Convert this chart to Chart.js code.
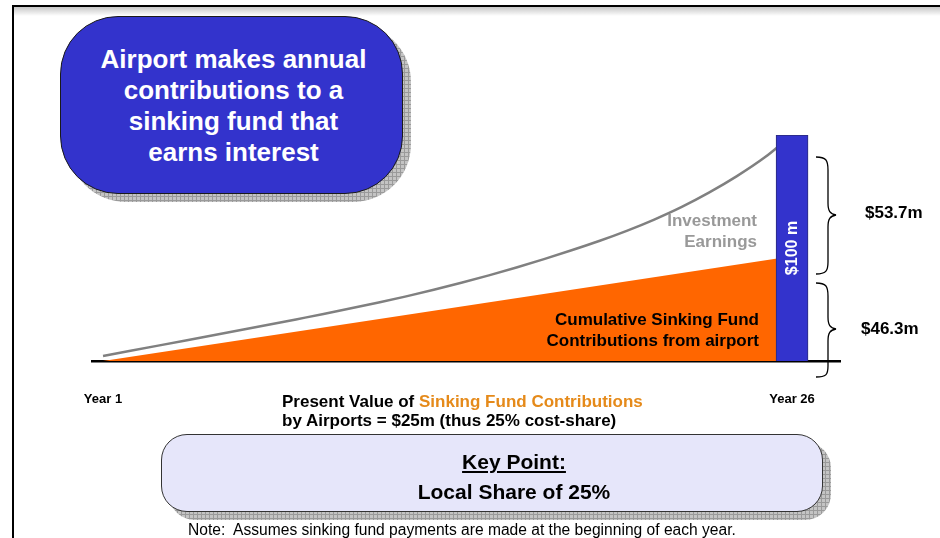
<!DOCTYPE html>
<html>
<head>
<meta charset="utf-8">
<script src="https://cdn.jsdelivr.net/npm/chart.js@4"></script>
<style>
  body { margin: 0; background: #fff; font-family: 'Liberation Sans', Arial, sans-serif; }
  #page { position: relative; width: 940px; height: 538px; overflow: hidden; background: #fff; }
  #chart { position: absolute; left: 0; top: 0; }
  .abs { position: absolute; white-space: nowrap; }
  .hatch {
    background-color: #c4c4c4;
    background-image: linear-gradient(#9a9a9a 1px, transparent 1px), linear-gradient(90deg, #9a9a9a 1px, transparent 1px);
    background-size: 4px 4px;
  }
</style>
</head>
<body>
<div id="page">
  <!-- slide frame -->
  <div class="abs" style="left:12px;top:5px;width:928px;height:2px;background:#000"></div>
  <div class="abs" style="left:14px;top:7px;width:926px;height:9px;background:linear-gradient(rgba(0,0,0,0.22),rgba(0,0,0,0))"></div>
  <div class="abs" style="left:12px;top:5px;width:2px;height:533px;background:#000"></div>

  <canvas id="chart" width="940" height="538"></canvas>

  <!-- callout box -->
  <div class="abs hatch" style="left:68px;top:24px;width:343px;height:178px;border-radius:58px"></div>
  <div class="abs" style="left:60px;top:16px;width:341px;height:176px;border:1px solid #1a1a1a;border-radius:58px;background:#3333CC"></div>
  <div class="abs" style="left:62px;top:44px;width:343px;text-align:center;color:#fff;font-weight:bold;font-size:26px;line-height:31px">Airport makes annual<br>contributions to a<br>sinking fund that<br>earns interest</div>

  <!-- in-chart labels -->
  <div class="abs" style="right:183px;top:210px;text-align:right;color:#999;font-weight:bold;font-size:17px;line-height:21px">Investment<br>Earnings</div>
  <div class="abs" style="right:181px;top:309px;text-align:right;color:#000;font-weight:bold;font-size:17px;line-height:21px">Cumulative Sinking Fund<br>Contributions from airport</div>
  <div class="abs" style="left:752px;top:238px;width:80px;height:20px;line-height:20px;text-align:center;color:#fff;font-weight:bold;font-size:16px;transform:rotate(-90deg)">$100 m</div>

  <!-- braces -->
  <svg class="abs" style="left:0;top:0" width="940" height="538">
    <path d="M816,157 C826,157 828,160 828,170 L828,203 C828,211 830,214 836,215 C830,216 828,219 828,227 L828,262 C828,271 826,274 816,274" fill="none" stroke="#000" stroke-width="1.3"/>
    <path d="M816,283 C826,283 828,286 828,296 L828,317 C828,325 830,328 836,329 C830,330 828,333 828,341 L828,366 C828,375 826,377 816,377" fill="none" stroke="#000" stroke-width="1.3"/>
  </svg>
  <div class="abs" style="left:865px;top:203px;font-weight:bold;font-size:17px;line-height:20px">$53.7m</div>
  <div class="abs" style="left:861px;top:319px;font-weight:bold;font-size:17px;line-height:20px">$46.3m</div>

  <!-- present value text -->
  <div class="abs" style="left:282px;top:392px;font-weight:bold;font-size:17px;line-height:19px">Present Value of <span style="color:#E58A1A">Sinking Fund Contributions</span><br>by Airports = $25m (thus 25% cost-share)</div>

  <!-- key point box -->
  <div class="abs hatch" style="left:169px;top:442px;width:662px;height:78px;border-radius:26px"></div>
  <div class="abs" style="left:161px;top:434px;width:660px;height:76px;border:1px solid #333;border-radius:26px;background:#E6E6FA"></div>
  <div class="abs" style="left:414px;top:449px;width:200px;text-align:center;font-weight:bold;font-size:21px;line-height:26px;text-decoration:underline">Key Point:</div>
  <div class="abs" style="left:364px;top:479px;width:300px;text-align:center;font-weight:bold;font-size:21px;line-height:26px">Local Share of 25%</div>

  <div class="abs" style="left:188px;top:520px;font-size:15.6px;line-height:20px">Note:&nbsp; Assumes sinking fund payments are made at the beginning of each year.</div>
</div>

<script>
// years along the horizontal axis
const tickYears = [1, 26];
const tickLabels = ['Year 1', 'Year 26'];

// total fund value (contributions + interest), $m
const fundYears = [1, 2, 3, 4, 5, 6, 7, 8, 9, 10, 11, 12, 13, 14, 15, 16, 17, 18, 19, 20, 21, 22, 23, 24, 25, 26];
const fundValues = [2.2, 4.5, 6.8, 9.1, 11.4, 13.7, 16.0, 18.4, 20.8, 23.3, 25.9, 28.6, 31.5, 34.6, 37.9, 41.4, 45.1, 49.0, 53.1, 57.6, 62.6, 68.2, 74.6, 81.8, 90.0, 100];

// cumulative contributions from airport, $m (orange wedge)
const contributionYears = [1, 26];
const contributionValues = [0, 46.3];

// final fund balance bar
const barYears = [26];
const barValues = [100];

const fontFamily = "'Liberation Sans', Arial, sans-serif";

function toPoints(xs, ys) {
  return xs.map((x, i) => ({ x: x, y: ys[i] }));
}

const ctx = document.getElementById('chart').getContext('2d');
new Chart(ctx, {
  type: 'line',
  data: {
    datasets: [
      {
        type: 'bar',
        label: 'Fund balance',
        data: toPoints(barYears, barValues),
        backgroundColor: '#3333CC',
        borderColor: '#2b2b7a',
        borderWidth: 1,
        barThickness: 32,
        order: 0
      },
      {
        label: 'Fund value',
        data: toPoints(fundYears, fundValues),
        borderColor: '#808080',
        borderWidth: 2.5,
        pointRadius: 0,
        fill: false,
        cubicInterpolationMode: 'monotone',
        order: 1
      },
      {
        label: 'Cumulative contributions',
        data: toPoints(contributionYears, contributionValues),
        borderWidth: 0,
        borderColor: '#FF6600',
        backgroundColor: '#FF6600',
        pointRadius: 0,
        fill: 'origin',
        order: 2
      }
    ]
  },
  options: {
    responsive: false,
    animation: false,
    devicePixelRatio: 1,
    layout: { padding: { left: 92, right: 100, top: 135, bottom: 127 } },
    plugins: {
      legend: { display: false },
      tooltip: { enabled: false }
    },
    scales: {
      x: {
        type: 'linear',
        min: 0.6,
        max: 27.74,
        offset: false,
        z: 1,
        grid: { display: false, drawTicks: false, tickLength: 0, offset: false },
        border: { display: true, color: '#000', width: 2.5 },
        afterBuildTicks: scale => { scale.ticks = tickYears.map(v => ({ value: v })); },
        afterFit: scale => { scale.height = 50; },
        ticks: {
          autoSkip: false,
          maxRotation: 0,
          padding: 31,
          color: '#000',
          font: { family: fontFamily, size: 13, weight: 'bold' },
          callback: v => tickLabels[tickYears.indexOf(v)]
        }
      },
      y: { display: false, min: 0, max: 100 }
    }
  }
});
</script>
</body>
</html>
